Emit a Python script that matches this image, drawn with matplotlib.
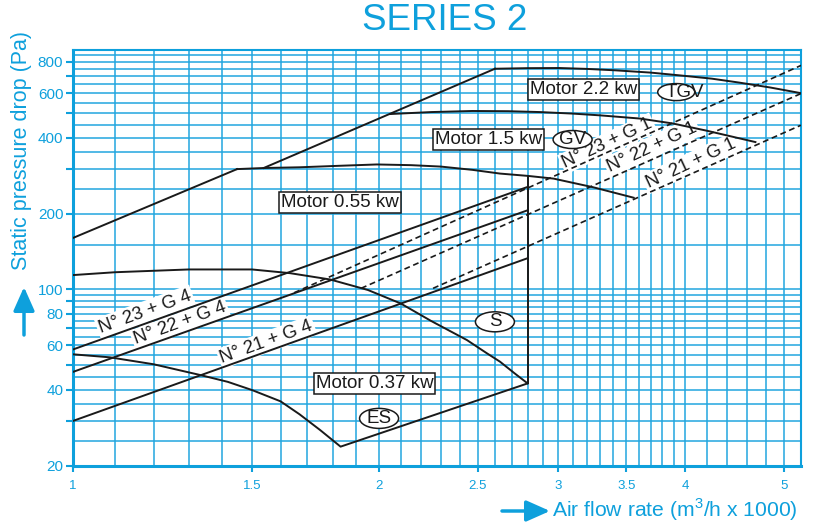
import numpy as np
import matplotlib.pyplot as plt
from matplotlib.patches import Ellipse
from matplotlib.ticker import FixedLocator, NullFormatter

plt.rcParams['font.family'] = ['Liberation Sans', 'DejaVu Sans']

BLUE = '#0ea0dc'
GRID = '#22a6df'
INK = '#1a1a1a'

# --- curves (air flow x1000 m3/h, pressure Pa) ---
rise_low_x = [1.0, 1.45]
rise_low_y = [160, 300]

rise_high_x = [1.54, 2.60]
rise_high_y = [303, 750]

motor055_x = [1.45, 1.54, 1.67, 1.82, 1.99, 2.15, 2.30, 2.47, 2.63, 2.80, 2.97, 3.25, 3.56]
motor055_y = [300, 303, 305, 309, 313, 311, 307, 298, 288, 282, 275, 254, 231]

motor15_x = [2.05, 2.25, 2.47, 2.68, 2.88, 3.10, 3.30, 3.61, 3.89, 4.20, 4.69]
motor15_y = [496, 505, 510, 509, 505, 498, 490, 476, 455, 426, 384]

motor22_x = [2.60, 2.80, 3.01, 3.20, 3.42, 3.70, 3.95, 4.25, 4.52, 4.85, 5.2]
motor22_y = [750, 754, 755, 749, 739, 724, 706, 685, 661, 632, 600]

s_x = [1.0, 1.10, 1.30, 1.50, 1.635, 1.79, 1.95, 2.10, 2.25, 2.44, 2.55, 2.63, 2.72, 2.80]
s_y = [114, 117, 120, 120, 116, 109.5, 99.5, 88, 75, 63, 56, 51.7, 46.4, 42.4]

es_x = [1.0, 1.087, 1.2, 1.333, 1.42, 1.5, 1.6, 1.67, 1.75, 1.833, 2.80]
es_y = [55.3, 53.8, 50.5, 45.8, 43.0, 39.9, 36.0, 32.0, 27.7, 23.8, 42.4]

limit_x = [2.8, 2.8]
limit_y = [42.4, 281]

g4_x = [1.0, 2.8]
n23_g4 = [57.8, 255]
n22_g4 = [47.1, 206]
n21_g4 = [30.1, 133]

n23_g1_x, n23_g1_y = [1.65, 5.2], [97, 773]
n22_g1_x, n22_g1_y = [1.92, 5.2], [101, 598]
n21_g1_x, n21_g1_y = [2.26, 5.2], [101, 448]

x_ticks = [1, 1.5, 2, 2.5, 3, 3.5, 4, 5]
x_labels = ['1', '1.5', '2', '2.5', '3', '3.5', '4', '5']
y_ticks = [20, 30, 40, 50, 60, 70, 80, 90, 100, 200, 300, 400, 500, 600, 700, 800]
y_labels = ['20', '', '40', '', '60', '', '80', '', '100',
            '200', '', '400', '', '600', '', '800']

grid_x = list(np.round(np.arange(1.0, 4.01, 0.1), 2)) + [4.2, 4.4, 4.6, 4.8, 5.0]
grid_y = list(range(20, 100, 5)) + list(range(100, 851, 50))

fig = plt.figure(figsize=(8.21, 5.24), dpi=100)
W, H = 821, 524
ax = fig.add_axes([73 / W, 1 - 465.7 / H, (801 - 73) / W, (465.7 - 50) / H])
ax.set_xscale('log')
ax.set_yscale('log')
ax.set_xlim(1, 5.2)
ax.set_ylim(20, 890)

ax.set_xticks(x_ticks, x_labels)
ax.set_yticks(y_ticks, y_labels)
ax.xaxis.set_minor_locator(FixedLocator(grid_x))
ax.yaxis.set_minor_locator(FixedLocator(grid_y))
ax.xaxis.set_minor_formatter(NullFormatter())
ax.yaxis.set_minor_formatter(NullFormatter())
ax.tick_params(which='minor', length=0)
ax.tick_params(axis='x', which='major', length=4, width=1.5, color=BLUE,
               labelcolor=BLUE, labelsize=9.5, pad=6)
ax.tick_params(axis='y', which='major', length=5, width=1.5, color=BLUE,
               labelcolor=BLUE, labelsize=11, pad=2)
ax.grid(which='both', color=GRID, lw=1.1, zorder=0)
ax.set_axisbelow(True)
for side, sp in ax.spines.items():
    sp.set_color(BLUE)
    sp.set_linewidth(2.2 if side in ('left', 'bottom') else 1.5)

# curves
for xs, ys in [(rise_low_x, rise_low_y), (rise_high_x, rise_high_y),
               (motor055_x, motor055_y), (motor15_x, motor15_y),
               (motor22_x, motor22_y), (s_x, s_y), (es_x, es_y),
               (limit_x, limit_y), (g4_x, n23_g4), (g4_x, n22_g4), (g4_x, n21_g4)]:
    ax.plot(xs, ys, color=INK, lw=1.4, zorder=3, solid_joinstyle='round')

for xs, ys in [(n23_g1_x, n23_g1_y), (n22_g1_x, n22_g1_y), (n21_g1_x, n21_g1_y)]:
    ax.plot(xs, ys, color=INK, lw=1.2, ls=(0, (3.5, 2.2)), zorder=3)

# fan labels along the lines
fan_labels = [('N° 23 + G 4', 1.177, 81.5, 20), ('N° 22 + G 4', 1.274, 73.3, 20),
              ('N° 21 + G 4', 1.55, 61.8, 20), ('N° 23 + G 1', 3.355, 379, 25),
              ('N° 22 + G 1', 3.71, 367, 25), ('N° 21 + G 1', 4.05, 316, 25)]
for txt, x, y, rot in fan_labels:
    ax.text(x, y, txt, rotation=rot, rotation_mode='anchor', ha='center',
            va='center', fontsize=13.3, color=INK, zorder=2.5,
            bbox=dict(fc='white', ec='none', pad=1.5))

# motor boxes
for txt, x, y in [('Motor 2.2 kw', 3.18, 622), ('Motor 1.5 kw', 2.56, 394),
                  ('Motor 0.55 kw', 1.83, 221), ('Motor 0.37 kw', 1.98, 42.5)]:
    ax.text(x, y, txt, ha='center', va='center', fontsize=13.5, color=INK,
            zorder=5, bbox=dict(boxstyle='square,pad=0.1', fc='white',
                                ec=INK, lw=1.1))

# ellipse tags (size in pixels)
aw, ah = 801 - 73, 465.7 - 50
for txt, x, y, tx, w, h in [('TGV', 3.92, 606, 4.0, 37, 17),
                            ('GV', 3.10, 393, 3.10, 39, 18),
                            ('S', 2.60, 74.4, 2.60, 39, 20),
                            ('ES', 2.00, 30.8, 2.00, 39, 20)]:
    cx, cy = ax.transAxes.inverted().transform(ax.transData.transform((x, y)))
    ax.add_patch(Ellipse((cx, cy), w / aw, h / ah, transform=ax.transAxes,
                         fc='white', ec=INK, lw=1.1, zorder=4))
    ax.text(tx, y, txt, ha='center', va='center', fontsize=13.5, color=INK, zorder=5)

# titles and axis captions
fig.text(0.542, 1 - 20 / H, 'SERIES 2', ha='center', va='center',
         fontsize=26.5, color=BLUE)
fig.text(22 / W, 1 - 150 / H, 'Static pressure drop (Pa)', rotation=90,
         ha='center', va='center', fontsize=15.5, color=BLUE)
fig.text(552 / W, 1 - 510 / H, r'Air flow rate (m$^{\mathregular{3}}$/h x 1000)',
         ha='left', va='center', fontsize=15.2, color=BLUE)

arrow = dict(arrowstyle='-|>,head_length=0.9,head_width=0.4', color=BLUE,
             lw=2.5, mutation_scale=16, shrinkA=0, shrinkB=0)
fig.add_artist(plt.Annotation('', xy=(550 / W, 1 - 511 / H), xytext=(502 / W, 1 - 511 / H),
                              xycoords='figure fraction', arrowprops=arrow))
fig.add_artist(plt.Annotation('', xy=(24 / W, 1 - 287 / H), xytext=(24 / W, 1 - 335 / H),
                              xycoords='figure fraction', arrowprops=arrow))

fig.savefig('out.png', dpi=100)
